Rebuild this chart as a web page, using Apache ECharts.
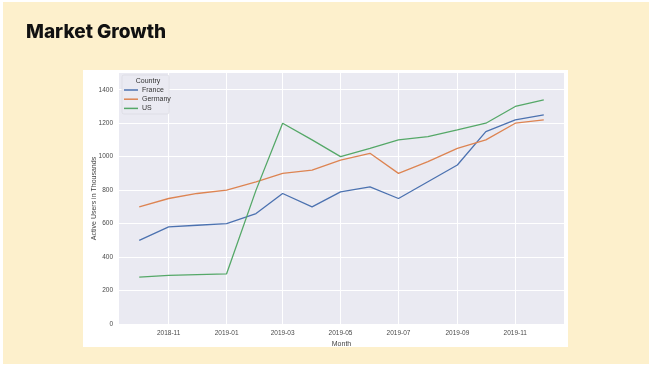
<!DOCTYPE html>
<html>
<head>
<meta charset="utf-8">
<script src="https://cdn.jsdelivr.net/npm/echarts@6/dist/echarts.min.js"></script>
<style>
html,body{margin:0;padding:0;background:#ffffff;}
#frame{position:absolute;left:3px;top:2px;width:646px;height:362px;background:#fdf0cc;}
#chart{position:absolute;left:0;top:0;width:652px;height:369px;}
</style>
</head>
<body>
<div id="frame"></div>
<div id="chart"></div>
<script>
const months = ['2018-10-01','2018-11-01','2018-12-01','2019-01-01','2019-02-01','2019-03-01','2019-04-01','2019-05-01','2019-06-01','2019-07-01','2019-08-01','2019-09-01','2019-10-01','2019-11-01','2019-12-01'];
const france  = [500,580,590,600,660,780,700,790,820,750,850,950,1150,1220,1250];
const germany = [700,750,780,800,850,900,920,980,1020,900,970,1050,1100,1200,1220];
const us      = [280,290,295,300,800,1200,1100,1000,1050,1100,1120,1160,1200,1300,1340];
const xTicks = ['2018-11-01','2019-01-01','2019-03-01','2019-05-01','2019-07-01','2019-09-01','2019-11-01'];
const yTicks = [0,200,400,600,800,1000,1200,1400];

function toTs(s){const p=s.split('-').map(Number);return new Date(p[0],p[1]-1,p[2]).getTime();}
const t0 = toTs(months[0]), t1 = toTs(months[months.length-1]);
const pad = (t1-t0)*0.05;

const chart = echarts.init(document.getElementById('chart'));
const pair = arr => months.map((m,i)=>[toTs(m),arr[i]]);
const font = 'Liberation Sans, Arial, sans-serif';

chart.setOption({
  animation:false,
  title:{text:'Market Growth',left:26,top:23,padding:0,textStyle:{fontFamily:'Inter, Lato, sans-serif',fontWeight:800,fontSize:19,color:'#111'}},
  graphic:[
    {type:'rect',z:-10,shape:{x:83,y:70,width:485,height:277},style:{fill:'#ffffff'}},
    {type:'rect',z:10,shape:{x:122,y:75,width:47,height:39,r:2},style:{fill:'rgba(234,234,242,0.85)',stroke:'#d6d6de',lineWidth:0.6}},
    {type:'text',z:11,x:148,y:81,style:{text:'Country',fill:'#333',font:'7px '+font,textAlign:'center',textVerticalAlign:'middle'}}
  ],
  legend:{
    orient:'vertical',left:124,top:86,padding:0,itemGap:1.2,itemWidth:14,itemHeight:1.5,
    icon:'rect',z:12,
    textStyle:{fontFamily:font,fontSize:7,color:'#333',lineHeight:8,padding:[0,0,0,-1]},
    data:['France','Germany','US']
  },
  grid:{left:119,top:73,width:445,height:251,show:true,backgroundColor:'#eaeaf2',borderWidth:0},
  xAxis:{
    type:'time',min:t0-pad,max:t1+pad,
    name:'Month',nameLocation:'middle',nameGap:17,nameMoveOverlap:false,
    nameTextStyle:{fontFamily:font,fontSize:7,color:'#444'},
    axisLine:{show:false},
    axisTick:{show:false,customValues:xTicks.map(toTs)},
    axisLabel:{customValues:xTicks.map(toTs),formatter:'{yyyy}-{MM}',fontFamily:font,fontSize:6.5,color:'#4a4a4a',margin:6,hideOverlap:false},
    splitLine:{show:true,lineStyle:{color:'#ffffff',width:1}}
  },
  yAxis:{
    type:'value',min:0,max:1500,interval:100,
    name:'Active Users in Thousands',nameLocation:'middle',nameGap:21,nameMoveOverlap:false,
    nameTextStyle:{fontFamily:font,fontSize:7,color:'#444'},
    axisLine:{show:false},
    axisTick:{show:false,customValues:yTicks},
    axisLabel:{customValues:yTicks,formatter:v=>String(v),fontFamily:font,fontSize:6.5,color:'#4a4a4a',margin:6},
    splitLine:{show:true,lineStyle:{color:'#ffffff',width:1}}
  },
  series:[
    {name:'France',type:'line',data:pair(france),showSymbol:false,lineStyle:{width:1.3,color:'#4c72b0'},itemStyle:{color:'#4c72b0'}},
    {name:'Germany',type:'line',data:pair(germany),showSymbol:false,lineStyle:{width:1.3,color:'#dd8452'},itemStyle:{color:'#dd8452'}},
    {name:'US',type:'line',data:pair(us),showSymbol:false,lineStyle:{width:1.3,color:'#55a868'},itemStyle:{color:'#55a868'}}
  ]
});
</script>
</body>
</html>
